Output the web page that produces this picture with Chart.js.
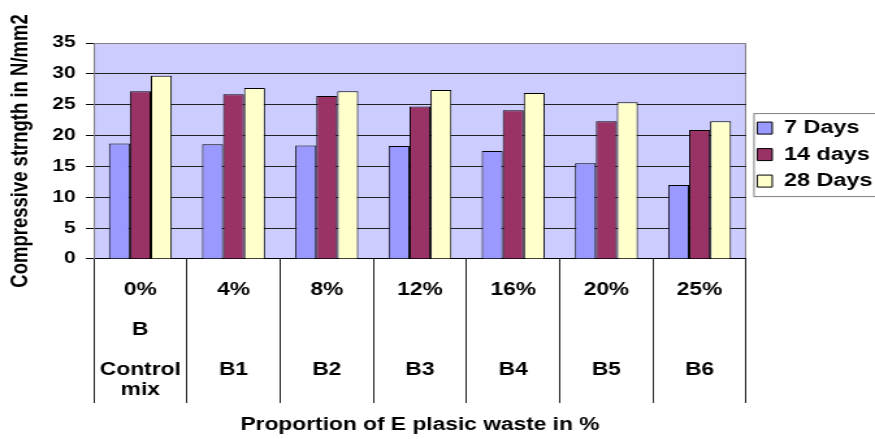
<!DOCTYPE html>
<html>
<head>
  <title>Compressive strength</title>
  <script src="https://cdn.jsdelivr.net/npm/chart.js"></script>
  <style>
    body {
      margin: 0;
      background-color: #ffffff;
    }
    /* the reference picture is stretched sideways, so the canvas is drawn narrow and widened by css */
    #myChart {
      display: block;
    }
  </style>
</head>
<body>

  <canvas id="myChart" width="673" height="439" style="width:875px;height:439px"></canvas>

  <script>
    const percents = ['0%', '4%', '8%', '12%', '16%', '20%', '25%'];
    const mixCodes = ['B', '', '', '', '', '', ''];
    const mixNames = ['Control', 'B1', 'B2', 'B3', 'B4', 'B5', 'B6'];
    const mixNames2 = ['mix', '', '', '', '', '', ''];

    const days7 = [18.7, 18.6, 18.4, 18.3, 17.5, 15.5, 12.0];
    const days14 = [27.2, 26.7, 26.4, 24.7, 24.1, 22.3, 20.9];
    const days28 = [29.7, 27.7, 27.2, 27.4, 26.9, 25.4, 22.3];

    const yTicks = [0, 5, 10, 15, 20, 25, 30, 35];

    const labels = percents.map((p, i) => [p, '', mixCodes[i], '', mixNames[i], mixNames2[i]]);

    const font = "'Liberation Sans', Arial, sans-serif";

    // plot background and frame
    const plotBack = {
      id: 'plotBack',
      beforeDraw(chart) {
        const { ctx, chartArea: a } = chart;
        ctx.save();
        ctx.fillStyle = '#CCCCFF';
        ctx.fillRect(a.left, a.top, a.right - a.left, a.bottom - a.top);
        ctx.strokeStyle = '#808080';
        ctx.lineWidth = 1;
        ctx.strokeRect(a.left + 0.5, a.top + 0.5, a.right - a.left - 1, a.bottom - a.top - 1);
        ctx.restore();
      }
    };

    // box round the legend
    const legendBox = {
      id: 'legendBox',
      afterDraw(chart) {
        const hb = chart.legend.legendHitBoxes;
        if (!hb || !hb.length) return;
        const last = hb[hb.length - 1];
        const ctx = chart.ctx;
        const left = hb[0].left - 3;
        const top = hb[0].top - 6;
        const bottom = last.top + last.height + 6;
        ctx.save();
        ctx.strokeStyle = '#808080';
        ctx.lineWidth = 1;
        ctx.strokeRect(left + 0.5, top + 0.5, chart.width - left + 2, bottom - top);
        ctx.restore();
      }
    };

    new Chart(document.getElementById('myChart').getContext('2d'), {
      type: 'bar',
      data: {
        labels: labels,
        datasets: [
          { label: '7 Days', data: days7, backgroundColor: '#9999FF', borderColor: '#000000', borderWidth: 1 },
          { label: '14 days', data: days14, backgroundColor: '#993366', borderColor: '#000000', borderWidth: 1 },
          { label: '28 Days', data: days28, backgroundColor: '#FFFFCC', borderColor: '#000000', borderWidth: 1 }
        ]
      },
      options: {
        responsive: false,
        animation: false,
        devicePixelRatio: 1,
        categoryPercentage: 0.675,
        barPercentage: 1.0,
        layout: { padding: { top: 43, left: 0, right: -8, bottom: 0 } },
        plugins: {
          tooltip: { enabled: false },
          legend: {
            position: 'right',
            fullSize: false,
            // empty title just nudges the items down a little
            title: { display: true, text: ' ', font: { size: 1 }, padding: { top: 3, bottom: 3 } },
            labels: {
              color: '#000',
              font: { family: font, size: 18, weight: 'bold' },
              boxWidth: 11.5,
              boxHeight: 12,
              padding: 8.5
            }
          }
        },
        scales: {
          x: {
            grid: { offset: true, drawOnChartArea: false, tickLength: 144, tickColor: '#222', lineWidth: 1 },
            border: { color: '#000', width: 1 },
            ticks: {
              color: '#000',
              autoSkip: false,
              maxRotation: 0,
              padding: -123,
              font: { family: font, size: 17.5, weight: 'bold', lineHeight: 1.143 }
            },
            title: {
              display: true,
              text: 'Proportion of E plasic waste in %',
              color: '#000',
              font: { family: font, size: 17.5, weight: 'bold' },
              // the big top padding makes room for the tall label block (tick padding is negative)
              padding: { top: 138, bottom: 3 }
            }
          },
          y: {
            min: 0,
            max: 35,
            afterBuildTicks: (axis) => { axis.ticks = yTicks.map(v => ({ value: v })); },
            grid: {
              color: (c) => (c.tick && c.tick.value === 35 ? '#808080' : '#222'),
              tickColor: '#000',
              tickLength: 6,
              lineWidth: 1
            },
            border: { color: '#808080', width: 1 },
            ticks: {
              color: '#000',
              padding: 8,
              font: { family: font, size: 16, weight: 'bold' }
            },
            title: {
              display: true,
              text: 'Compressive strngth in N/mm2',
              color: '#000',
              font: { family: font, size: 18.5, weight: 'bold' },
              padding: { top: 4.6, bottom: 5.5 }
            }
          }
        }
      },
      plugins: [plotBack, legendBox]
    });
  </script>
</body>
</html>
